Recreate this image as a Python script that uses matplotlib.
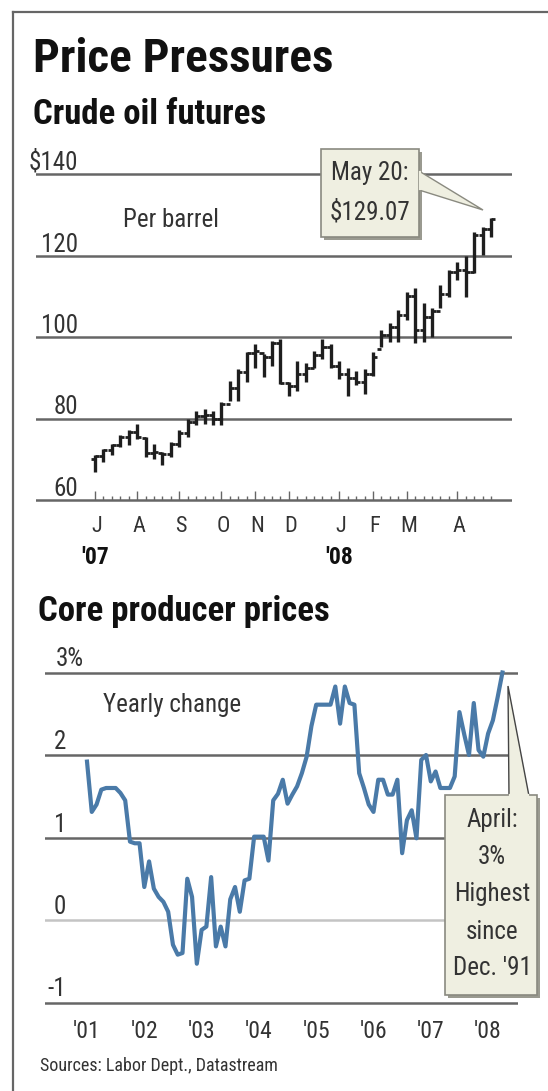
import numpy as np
import matplotlib
matplotlib.use('Agg')
import matplotlib.pyplot as plt
from matplotlib import transforms as mtrans
from matplotlib.patches import Rectangle, Polygon
from matplotlib import font_manager as fm

# ---------------- data ----------------
# Weekly crude oil futures (OHLC), July 2007 - May 20, 2008
oil_open = [70.0, 70.7, 72.2, 73.5, 75.5, 76.8, 75.3, 71.5, 71.5, 71.2,
            73.8, 76.5, 79.2, 80.5, 80.8, 80.0, 83.5, 87.5, 91.5, 96.0,
            96.0, 95.0, 98.5, 88.8, 88.0, 91.0, 92.5, 95.5, 97.5, 93.0,
            91.0, 90.0, 89.0, 91.0, 97.0, 100.5, 102.5, 105.5, 110.0, 101.7,
            105.0, 106.5, 110.5, 116.0, 116.5, 116.0, 125.0, 126.5]
oil_high = [71.0, 72.6, 73.8, 75.9, 77.1, 78.7, 75.4, 73.8, 71.8, 74.2,
            77.1, 79.9, 81.9, 82.4, 81.9, 84.0, 89.3, 92.1, 96.2, 98.3,
            95.8, 99.1, 99.5, 88.9, 94.2, 93.7, 96.6, 99.5, 98.3, 94.2,
            92.5, 91.7, 92.1, 96.2, 101.7, 103.4, 106.6, 111.1, 112.0, 108.3,
            107.0, 112.8, 116.4, 118.5, 119.8, 125.8, 127.1, 129.1]
oil_low = [66.9, 69.4, 71.0, 73.0, 73.4, 75.0, 70.5, 70.1, 68.5, 70.5,
           73.0, 75.4, 78.3, 78.7, 78.3, 78.3, 84.4, 84.4, 88.9, 92.5,
           90.1, 92.9, 88.5, 85.6, 86.8, 88.9, 92.5, 94.6, 92.5, 89.7,
           85.6, 88.1, 86.0, 90.5, 97.5, 98.8, 98.8, 104.2, 98.5, 98.8,
           100.0, 107.0, 109.9, 114.0, 109.9, 115.6, 120.1, 124.6]
oil_close = [70.7, 72.2, 73.5, 75.5, 76.8, 75.5, 71.5, 71.8, 71.2, 73.8,
             76.5, 79.2, 80.5, 80.8, 80.0, 83.5, 87.5, 91.5, 96.0, 96.5,
             95.0, 98.5, 88.8, 88.0, 91.0, 92.5, 95.5, 97.5, 93.0, 91.0,
             90.0, 89.0, 91.0, 95.0, 100.5, 102.5, 105.5, 110.0, 101.7, 105.0,
             106.5, 110.5, 116.0, 116.5, 116.0, 125.0, 126.5, 129.07]
month_labels = ['J', 'A', 'S', 'O', 'N', 'D', 'J', 'F', 'M', 'A']
month_start_week = [0, 5, 10, 15, 19, 23, 29, 33, 37, 43]
oil_year_labels = ["'07", "'08"]
oil_year_week = [0, 29]
oil_yticks = [60, 80, 100, 120, 140]
oil_ytick_labels = ['60', '80', '100', '120', '$140']

# Monthly core producer prices, yearly % change, Jan 2001 - Apr 2008
ppi = [1.92, 1.31, 1.40, 1.58, 1.60, 1.60, 1.60, 1.54, 1.45, 0.95,
       0.93, 0.93, 0.40, 0.71, 0.38, 0.28, 0.22, 0.10, -0.30, -0.42,
       -0.40, 0.50, 0.28, -0.53, -0.12, -0.08, 0.52, -0.32, -0.08, -0.32,
       0.25, 0.40, 0.10, 0.48, 0.50, 1.01, 1.01, 1.01, 0.72, 1.45,
       1.53, 1.70, 1.41, 1.52, 1.62, 1.78, 1.98, 2.35, 2.61, 2.61,
       2.61, 2.61, 2.83, 2.38, 2.83, 2.63, 2.61, 1.78, 1.60, 1.40,
       1.31, 1.70, 1.70, 1.52, 1.52, 1.70, 0.81, 1.21, 1.33, 0.99,
       1.94, 2.00, 1.68, 1.80, 1.60, 1.60, 1.60, 1.74, 2.52, 2.25,
       2.00, 2.63, 2.06, 1.98, 2.26, 2.42, 2.70, 3.00]
ppi_year_labels = ["'01", "'02", "'03", "'04", "'05", "'06", "'07", "'08"]
ppi_yticks = [-1, 0, 1, 2, 3]
ppi_ytick_labels = ['-1', '0', '1', '2', '3%']

# ---------------- fonts ----------------
avail = {f.name for f in fm.fontManager.ttflist}
def pick(cands):
    for c in cands:
        if c in avail:
            return c
    return None
NARROW = pick(['Liberation Sans Narrow', 'DejaVu Sans Condensed', 'Roboto Condensed',
               'Open Sans Condensed'])
if NARROW is None:
    FONT = dict(family='DejaVu Sans', stretch='condensed')
else:
    FONT = dict(family=NARROW)

# ---------------- figure ----------------
W, H = 548, 1091
fig = plt.figure(figsize=(W / 100, H / 100), dpi=100)
fig.patch.set_facecolor('white')

GRID = '#666666'
BAR = '#1e1e1e'
LINE = '#4a7aa8'
BOXFILL = '#efefe1'
BOXEDGE = '#8a8a80'

# upper panel geometry (pixels)
U_L, U_R, U_T, U_B = 36, 512, 140, 505
u_x0, u_dx = 95.0, (491 - 95) / 47.0
u_y0, u_dy = 500.0, 4.075
ax1 = fig.add_axes([U_L / W, 1 - U_B / H, (U_R - U_L) / W, (U_B - U_T) / H])
ax1.set_xlim((U_L - u_x0) / u_dx, (U_R - u_x0) / u_dx)
ax1.set_ylim(60 + (u_y0 - U_B) / u_dy, 60 + (u_y0 - U_T) / u_dy)
ax1.axis('off')

# lower panel geometry (pixels)
L_L, L_R, L_T, L_B = 45, 518, 655, 1012
l_x0, l_dx = 87.0, 57.3 / 12
l_y0, l_dy = 920.0, 82.5
ax2 = fig.add_axes([L_L / W, 1 - L_B / H, (L_R - L_L) / W, (L_B - L_T) / H])
ax2.set_xlim((L_L - l_x0) / l_dx, (L_R - l_x0) / l_dx)
ax2.set_ylim((l_y0 - L_B) / l_dy, (l_y0 - L_T) / l_dy)
ax2.axis('off')

# overlay axes in pixel coordinates
ax0 = fig.add_axes([0, 0, 1, 1])
ax0.set_xlim(0, W)
ax0.set_ylim(H, 0)
ax0.axis('off')
ax0.set_zorder(10)
ax0.patch.set_alpha(0)

# frame
ax0.plot([13, 13], [12, H], color='#666666', lw=1.6)
ax0.plot([13, W], [12, 12], color='#666666', lw=1.6)

# titles
ax0.text(33, 72, 'Price Pressures', fontsize=34, fontweight='bold', va='baseline',
         color='#111111', **FONT)
ax0.text(33, 124, 'Crude oil futures', fontsize=25, fontweight='bold', va='baseline',
         color='#111111', **FONT)
ax0.text(38, 621, 'Core producer prices', fontsize=25, fontweight='bold', va='baseline',
         color='#111111', **FONT)

# ---------------- upper chart ----------------
for v in oil_yticks:
    ax1.axhline(v, color=GRID, lw=1.8, zorder=1)
weeks = np.arange(len(oil_close))
tick_h = np.where(np.isin(weeks, month_start_week), 2.3, 1.0)
ax1.vlines(weeks, 60, 60 + tick_h, color='#666666', lw=1.0, zorder=2)
ax1.vlines(weeks, oil_low, oil_high, color=BAR, lw=2.4, zorder=3)
ax1.hlines(oil_open, weeks - 0.48, weeks, color=BAR, lw=2.0, zorder=3)
ax1.hlines(oil_close, weeks, weeks + 0.48, color=BAR, lw=2.0, zorder=3)

t_ylab = mtrans.offset_copy(mtrans.blended_transform_factory(ax0.transData, ax1.transData),
                            fig=fig, x=0, y=4, units='dots')
for v, lab in zip(oil_yticks, oil_ytick_labels):
    ax0.text(78, v, lab, transform=t_ylab, ha='right', va='baseline', fontsize=18,
             color='#333333', **FONT)

t_xlab = mtrans.blended_transform_factory(ax1.transData, ax0.transData)
for w, lab in zip(month_start_week, month_labels):
    ax0.text(w + 0.2, 526, lab, transform=t_xlab, ha='center', va='center', fontsize=16,
             color='#333333', **FONT)
for w, lab in zip(oil_year_week, oil_year_labels):
    ax0.text(w, 558, lab, transform=t_xlab, ha='center', va='center', fontsize=17,
             fontweight='bold', color='#111111', **FONT)

ax0.text(123, 220, 'Per barrel', ha='left', va='center', fontsize=18, color='#333333', **FONT)

# callout upper
ax0.add_patch(Rectangle((324, 152), 98, 88, facecolor='#9a9a90', edgecolor='none', zorder=1))
ax0.add_patch(Polygon([(419, 171), (483, 210), (419, 190)], closed=True,
                      facecolor=BOXFILL, edgecolor=BOXEDGE, lw=1.0, zorder=2))
ax0.add_patch(Rectangle((321, 149), 98, 88, facecolor=BOXFILL, edgecolor=BOXEDGE, lw=1.2, zorder=3))
ax0.plot([419.5, 419.5], [172, 189], color=BOXFILL, lw=1.6, zorder=4)
ax0.text(370, 173, 'May 20:', ha='center', va='center', fontsize=18, color='#333333',
         zorder=5, **FONT)
ax0.text(370, 212, '$129.07', ha='center', va='center', fontsize=18, color='#333333',
         zorder=5, **FONT)

# ---------------- lower chart ----------------
for v in ppi_yticks:
    ax2.axhline(v, color=('#c4c4c4' if v == 0 else GRID), lw=1.8, zorder=1)
months = np.arange(len(ppi))
ax2.plot(months, ppi, color=LINE, lw=3.0, zorder=3, solid_joinstyle='round')

t_ylab2 = mtrans.offset_copy(mtrans.blended_transform_factory(ax0.transData, ax2.transData),
                             fig=fig, x=0, y=6, units='dots')
for v, lab in zip(ppi_yticks, ppi_ytick_labels):
    if lab.endswith('%'):
        ax0.text(56, v, lab, transform=t_ylab2, ha='left', va='baseline', fontsize=18,
                 color='#333333', **FONT)
    else:
        ax0.text(66, v, lab, transform=t_ylab2, ha='right', va='baseline', fontsize=18,
                 color='#333333', **FONT)

t_xlab2 = mtrans.blended_transform_factory(ax2.transData, ax0.transData)
for k, lab in enumerate(ppi_year_labels):
    ax0.text(12 * k, 1031, lab, transform=t_xlab2, ha='center', va='center', fontsize=17,
             color='#333333', **FONT)

ax0.text(103, 705, 'Yearly change', ha='left', va='center', fontsize=18, color='#333333', **FONT)

# callout lower
ax0.add_patch(Polygon([(508, 686), (509, 796), (529, 796)], closed=True,
                      facecolor=BOXFILL, edgecolor='#444444', lw=1.0, zorder=2))
ax0.add_patch(Rectangle((448, 798), 92, 200, facecolor='#9a9a90', edgecolor='none', zorder=1))
ax0.add_patch(Rectangle((445, 795), 92, 200, facecolor=BOXFILL, edgecolor=BOXEDGE, lw=1.2, zorder=3))
ax0.plot([510, 528], [795, 795], color=BOXFILL, lw=1.6, zorder=4)
for yy, txt in zip([820, 857, 894, 932, 968], ['April:', '3%', 'Highest', 'since', "Dec. '91"]):
    ax0.text(492, yy, txt, ha='center', va='center', fontsize=18, color='#333333',
             zorder=5, **FONT)

ax0.text(40, 1066, 'Sources: Labor Dept., Datastream', ha='left', va='center', fontsize=13,
         color='#333333', **FONT)

fig.savefig('out.png', dpi=100)
